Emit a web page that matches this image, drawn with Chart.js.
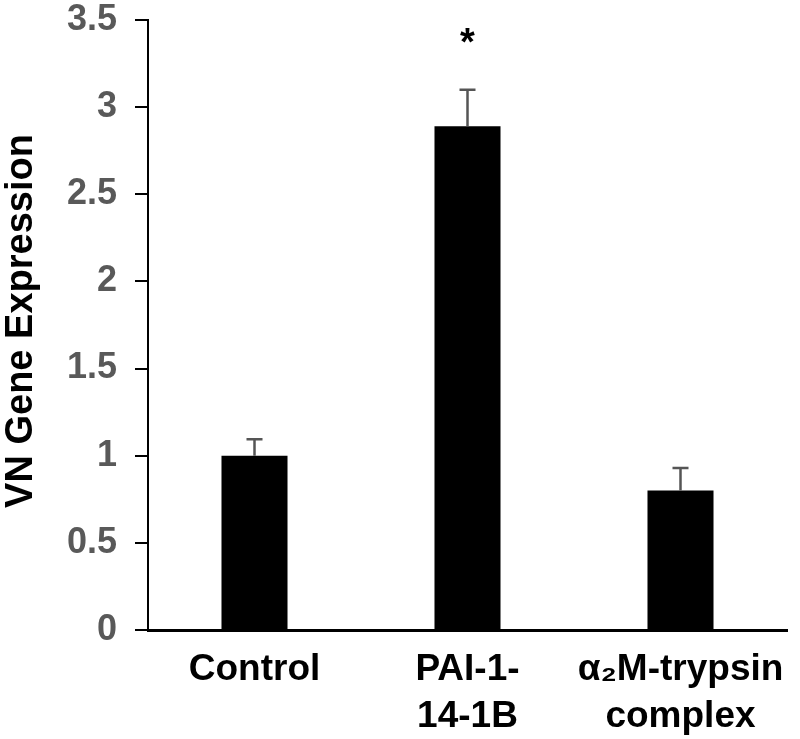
<!DOCTYPE html>
<html>
<head>
<meta charset="utf-8">
<script src="https://cdn.jsdelivr.net/npm/chart.js"></script>
<style>
    html, body { margin: 0; padding: 0; background: #fff; }
    #wrap { width: 800px; height: 739px; }
</style>
</head>
<body>
<div id="wrap"><canvas id="vnChart" width="800" height="739"></canvas></div>
<script>
// data
const categories = ['Control', ['PAI-1-', '14-1B'], ['α₂M-trypsin', 'complex']];
const expression = [1.0, 2.89, 0.80];
const errorUp = [0.095, 0.21, 0.13];
const marks = ['', '*', ''];
const yTicks = [0, 0.5, 1, 1.5, 2, 2.5, 3, 3.5];

const FONT = '"Liberation Sans", Arial, sans-serif';

// error bars + significance star
const errorBarPlugin = {
    id: 'errorBars',
    afterDatasetsDraw(chart) {
        const ctx = chart.ctx;
        const meta = chart.getDatasetMeta(0);
        const y = chart.scales.y;
        ctx.save();
        meta.data.forEach(function(bar, i) {
            const top = y.getPixelForValue(expression[i] + errorUp[i]);
            const base = y.getPixelForValue(expression[i]);
            ctx.strokeStyle = '#555';
            ctx.lineWidth = 2.5;
            ctx.beginPath();
            ctx.moveTo(bar.x, base);
            ctx.lineTo(bar.x, top);
            ctx.moveTo(bar.x - 8, top);
            ctx.lineTo(bar.x + 8, top);
            ctx.stroke();
            if (marks[i]) {
                ctx.fillStyle = '#000';
                ctx.font = 'bold 38px ' + FONT;
                ctx.textAlign = 'center';
                ctx.textBaseline = 'middle';
                ctx.fillText(marks[i], bar.x, top - 45);
            }
        });
        ctx.restore();
    }
};

// rotated y axis title
const yTitlePlugin = {
    id: 'yTitle',
    afterDraw(chart) {
        const ctx = chart.ctx;
        ctx.save();
        ctx.translate(22, 321);
        ctx.rotate(-Math.PI / 2);
        ctx.fillStyle = '#000';
        ctx.font = 'bold 38px ' + FONT;
        ctx.textAlign = 'center';
        ctx.textBaseline = 'middle';
        ctx.fillText('VN Gene Expression', 0, 0);
        ctx.restore();
    }
};

new Chart(document.getElementById('vnChart').getContext('2d'), {
    type: 'bar',
    data: {
        labels: categories,
        datasets: [{
            data: expression,
            backgroundColor: '#000',
            borderWidth: 0,
            barPercentage: 0.31,
            categoryPercentage: 1.0
        }]
    },
    options: {
        responsive: false,
        animation: false,
        events: [],
        layout: {
            padding: { top: 20, right: 13, left: 0, bottom: 0 }
        },
        plugins: {
            legend: { display: false },
            tooltip: { enabled: false }
        },
        scales: {
            x: {
                afterFit: function(scale) { scale.height = 109; },
                grid: { display: false },
                border: { display: true, color: '#000', width: 3 },
                ticks: {
                    color: '#000',
                    padding: 8,
                    maxRotation: 0,
                    autoSkip: false,
                    font: { family: FONT, size: 37, weight: 'bold', lineHeight: 1.27 }
                }
            },
            y: {
                min: 0,
                max: 3.5,
                afterFit: function(scale) {
                    scale.width = 148;
                    scale.paddingTop = 0;
                    scale.paddingBottom = 0;
                },
                afterBuildTicks: function(scale) {
                    scale.ticks = yTicks.map(function(v) { return { value: v }; });
                },
                grid: {
                    drawOnChartArea: false,
                    drawTicks: true,
                    tickLength: 13,
                    color: '#000',
                    lineWidth: 2
                },
                border: { display: true, color: '#000', width: 2 },
                ticks: {
                    color: '#595959',
                    padding: 18,
                    font: { family: FONT, size: 36, weight: 'bold' },
                    callback: function(value) { return String(value); }
                }
            }
        }
    },
    plugins: [errorBarPlugin, yTitlePlugin]
});
</script>
</body>
</html>
